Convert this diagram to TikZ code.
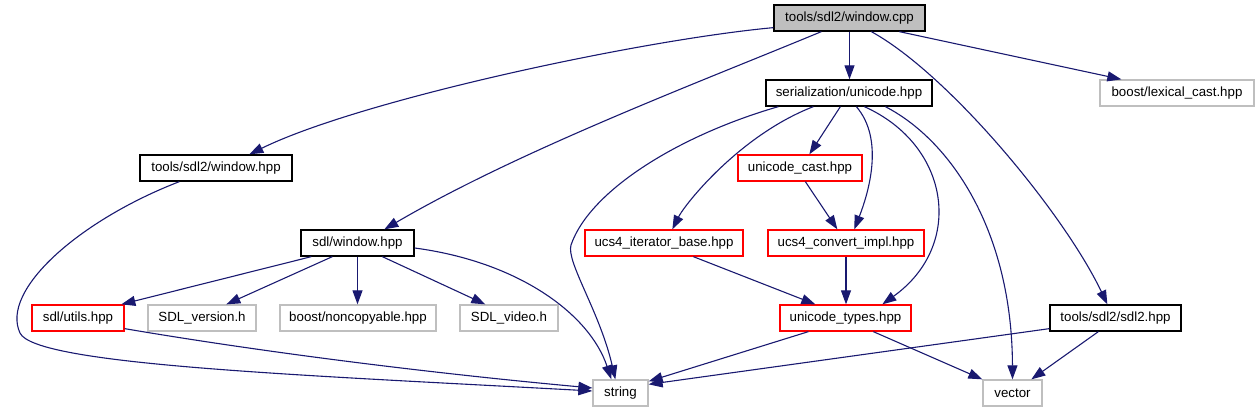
\documentclass[tikz,border=0pt]{standalone}
\usepackage{fontspec}
\setmainfont{Liberation Sans}
\usetikzlibrary{arrows.meta}
\definecolor{edgec}{HTML}{191970}
\definecolor{extc}{HTML}{BFBFBF}
\definecolor{rootc}{HTML}{BFBFBF}
\definecolor{redc}{HTML}{FF0000}
\begin{document}
\begin{tikzpicture}[x=1pt,y=-1pt,
  box/.style={rectangle, draw, line width=1.3pt, minimum height=26pt, inner sep=0pt, fill=white,
    font=\fontsize{13.3}{16}\selectfont},
  docbox/.style={box, draw=black},
  rootbox/.style={box, draw=black, fill=rootc},
  redbox/.style={box, draw=redc},
  extbox/.style={box, draw=extc},
  edge/.style={draw=edgec, line width=1.1pt, -{Triangle[length=14pt,width=10pt]}, fill=none}]
\useasboundingbox (0,0) rectangle (1258,411);
% nodes
\node[rootbox, minimum width=151pt] (cpp) at (849.5,18) {tools/sdl2/window.cpp};
\node[docbox, minimum width=166pt] (ser) at (849,93) {serialization/unicode.hpp};
\node[extbox, minimum width=154pt] (lex) at (1177,93) {boost/lexical\_cast.hpp};
\node[docbox, minimum width=152pt] (twh) at (216,168) {tools/sdl2/window.hpp};
\node[redbox, minimum width=124pt] (ucast) at (800,168) {unicode\_cast.hpp};
\node[docbox, minimum width=113pt] (sdlw) at (357.5,243) {sdl/window.hpp};
\node[redbox, minimum width=158pt] (ucs4it) at (664,243) {ucs4\_iterator\_base.hpp};
\node[redbox, minimum width=156pt] (ucs4conv) at (846,243) {ucs4\_convert\_impl.hpp};
\node[redbox, minimum width=92pt] (sdlutils) at (78,318) {sdl/utils.hpp};
\node[extbox, minimum width=108pt] (sdlver) at (202,318) {SDL\_version.h};
\node[extbox, minimum width=156pt] (noncopy) at (358,318) {boost/noncopyable.hpp};
\node[extbox, minimum width=98pt] (sdlvid) at (509,318) {SDL\_video.h};
\node[redbox, minimum width=131pt] (utypes) at (845.5,318) {unicode\_types.hpp};
\node[docbox, minimum width=131pt] (sdl2) at (1115.5,318) {tools/sdl2/sdl2.hpp};
\node[extbox, minimum width=55pt] (string) at (620.5,393) {string};
\node[extbox, minimum width=59pt] (vector) at (1012.5,393) {vector};
% edges from cpp
\draw[edge] ([yshift=4pt]cpp.south west) .. controls (640,40) and (360,100) .. ([xshift=110pt]twh.north west);
\draw[edge] ([xshift=48pt]cpp.south west) .. controls (700,82) and (520,150) .. ([xshift=84pt]sdlw.north west);
\draw[edge] (cpp.south) -- (cpp.south |- ser.north);
\draw[edge] ([xshift=126pt]cpp.south west) -- ([xshift=22pt]lex.north west);
\draw[edge] ([xshift=98pt]cpp.south west) .. controls (950,75) and (1065,215) .. ([xshift=58pt]sdl2.north west);
% edges from ser
\draw[edge] ([xshift=13pt]ser.south west) .. controls (680,135) and (590,190) .. (571,245) .. controls (566,262) and (600,312) .. ([xshift=23pt]string.north west);
\draw[edge] ([xshift=48pt]ser.south west) .. controls (740,135) and (685,204) .. ([xshift=88pt]ucs4it.north west);
\draw[edge] ([xshift=75pt]ser.south west) -- ([xshift=72pt]ucast.north west);
\draw[edge] ([xshift=91pt]ser.south west) .. controls (885,140) and (868,194) .. ([xshift=87pt]ucs4conv.north west);
\draw[edge] ([xshift=99pt]ser.south west) .. controls (950,145) and (965,245) .. ([xshift=103pt]utypes.north west);
\draw[edge] ([xshift=120pt]ser.south west) .. controls (950,140) and (1012,230) .. (vector.north);
% middle edges
\draw[edge] ([xshift=68pt]ucast.south west) -- ([xshift=70pt]ucs4conv.north west);
\draw[edge] ([xshift=109pt]ucs4it.south west) -- ([xshift=36pt]utypes.north west);
\draw[edge] (ucs4conv.south) -- (ucs4conv.south |- utypes.north);
\draw[edge] ([xshift=29pt]utypes.south west) -- ([yshift=-2pt]string.north east);
\draw[edge] ([xshift=94pt]utypes.south west) -- (vector.north west);
\draw[edge] ([yshift=3pt]sdl2.south west) -- ([yshift=-5pt]string.north east);
\draw[edge] ([xshift=49pt]sdl2.south west) -- ([xshift=49pt]vector.north west);
% left side
\draw[edge] ([xshift=40pt]twh.south west) .. controls (80,220) and (0,290) .. (20,333) .. controls (35,365) and (300,375) .. ([yshift=2pt]string.west);
\draw[edge] ([xshift=11pt]sdlw.south west) -- ([xshift=90pt]sdlutils.north west);
\draw[edge] ([xshift=32pt]sdlw.south west) -- ([xshift=79pt]sdlver.north west);
\draw[edge] (sdlw.south) -- (sdlw.south |- noncopy.north);
\draw[edge] ([xshift=82pt]sdlw.south west) -- ([xshift=26pt]sdlvid.north west);
\draw[edge] ([yshift=-5pt]sdlw.east) .. controls (520,262) and (590,315) .. ([xshift=19pt]string.north west);
\draw[edge] ([yshift=3pt]sdlutils.south east) .. controls (280,355) and (450,375) .. ([yshift=5pt]string.west);
\end{tikzpicture}
\end{document}
